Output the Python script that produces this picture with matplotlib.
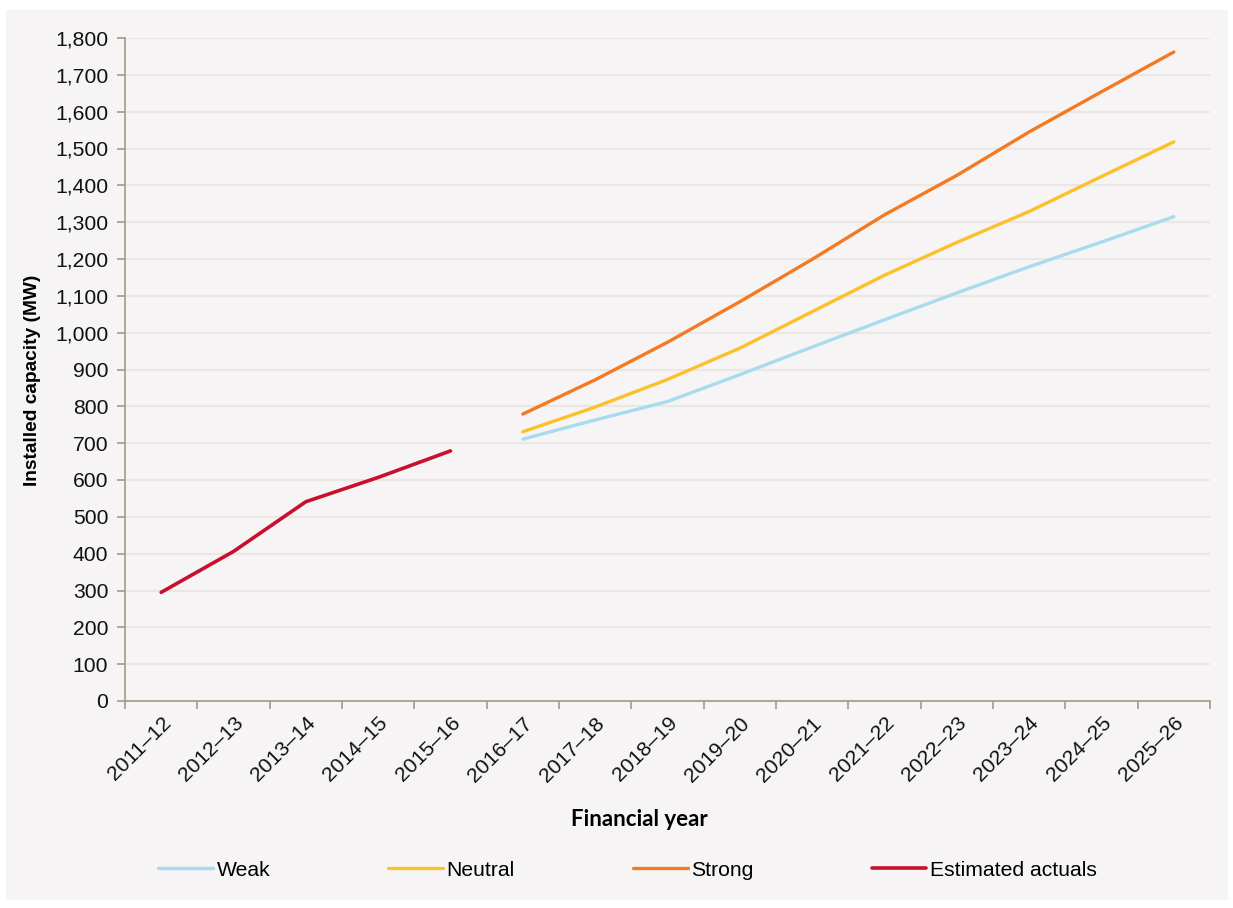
import matplotlib
matplotlib.use("Agg")
import matplotlib.pyplot as plt
from matplotlib.patches import Rectangle
from matplotlib.ticker import FuncFormatter, FixedLocator, MultipleLocator

years = ["2011\u201312", "2012\u201313", "2013\u201314", "2014\u201315", "2015\u201316",
         "2016\u201317", "2017\u201318", "2018\u201319", "2019\u201320", "2020\u201321",
         "2021\u201322", "2022\u201323", "2023\u201324", "2024\u201325", "2025\u201326"]

actual_years = years[:5]
actuals = [295, 406, 541, 607, 679]

proj_years = years[5:]
weak = [711, 763, 813, 886, 961, 1035, 1108, 1179, 1246, 1315]
neutral = [731, 798, 873, 958, 1057, 1156, 1245, 1329, 1424, 1518]
strong = [779, 872, 974, 1084, 1199, 1320, 1427, 1545, 1654, 1762]

plt.rcParams['font.family'] = ['Liberation Sans', 'DejaVu Sans']

fig = plt.figure(figsize=(12.33, 9.08), dpi=100)
fig.patch.set_facecolor('white')
panel_col = '#f6f4f5'
fig.patches.append(Rectangle((6/1233, 1-900/908), (1228-6)/1233, (900-10)/908,
                             transform=fig.transFigure, facecolor=panel_col,
                             edgecolor='none', zorder=-5))

ax = fig.add_axes([125/1233, 1-701/908, (1210-125)/1233, (701-38)/908])
ax.set_facecolor(panel_col)

idx = {y: i for i, y in enumerate(years)}
xa = [idx[y] for y in actual_years]
xp = [idx[y] for y in proj_years]

lw = 2.4
ax.plot(xp, weak, color='#a8dced', lw=lw, label='Weak', solid_capstyle='round', zorder=3)
ax.plot(xp, neutral, color='#fcc02a', lw=lw, label='Neutral', solid_capstyle='round', zorder=3)
ax.plot(xp, strong, color='#f47a22', lw=lw, label='Strong', solid_capstyle='round', zorder=3)
ax.plot(xa, actuals, color='#c8102e', lw=2.6, label='Estimated actuals', solid_capstyle='round', zorder=3)

ax.set_xlim(-0.5, len(years) - 0.5)
ax.set_ylim(0, 1800)
ax.yaxis.set_major_locator(MultipleLocator(100))
ax.yaxis.set_major_formatter(FuncFormatter(lambda v, p: f"{int(v):,}"))
ax.grid(axis='y', color='#ebe7e2', lw=1.6, zorder=1)
ax.set_axisbelow(True)

ax.xaxis.set_major_locator(FixedLocator([i - 0.5 for i in range(len(years) + 1)]))
ax.xaxis.set_major_formatter(FuncFormatter(lambda v, p: ""))
ax.xaxis.set_minor_locator(FixedLocator(list(range(len(years)))))
ax.set_xticklabels(years, minor=True)

spine_col = '#a39a8a'
for s in ['top', 'right']:
    ax.spines[s].set_visible(False)
for s in ['left', 'bottom']:
    ax.spines[s].set_color(spine_col)
    ax.spines[s].set_linewidth(1.2)

fs = 15.2
ax.tick_params(axis='y', which='major', length=6, width=1.2, color=spine_col,
               labelsize=fs, pad=6, labelcolor='#111111')
ax.tick_params(axis='x', which='major', length=6, width=1.2, color=spine_col)
ax.tick_params(axis='x', which='minor', length=0, labelsize=fs, pad=9, labelcolor='#111111')
for lab in ax.get_xticklabels(minor=True):
    lab.set_rotation(45)
    lab.set_ha('right')
    lab.set_rotation_mode('anchor')

ax.set_ylabel('Installed capacity (MW)', fontsize=13.8, fontweight='bold')
ax.yaxis.set_label_coords(-84/1085, 0.5 - 11/663)

fig.text(639/1233, 1-819/908, 'Financial year', fontsize=16, fontweight='bold',
         family=['Lato', 'DejaVu Sans'], ha='center', va='center')

leg = fig.legend(loc='center', bbox_to_anchor=(627.5/1233, 1-870/908), ncol=4,
                 frameon=False, fontsize=15.2, handlelength=2.6, handletextpad=0.15,
                 columnspacing=5.6)

fig.savefig('out.png', dpi=100, facecolor=fig.get_facecolor())
